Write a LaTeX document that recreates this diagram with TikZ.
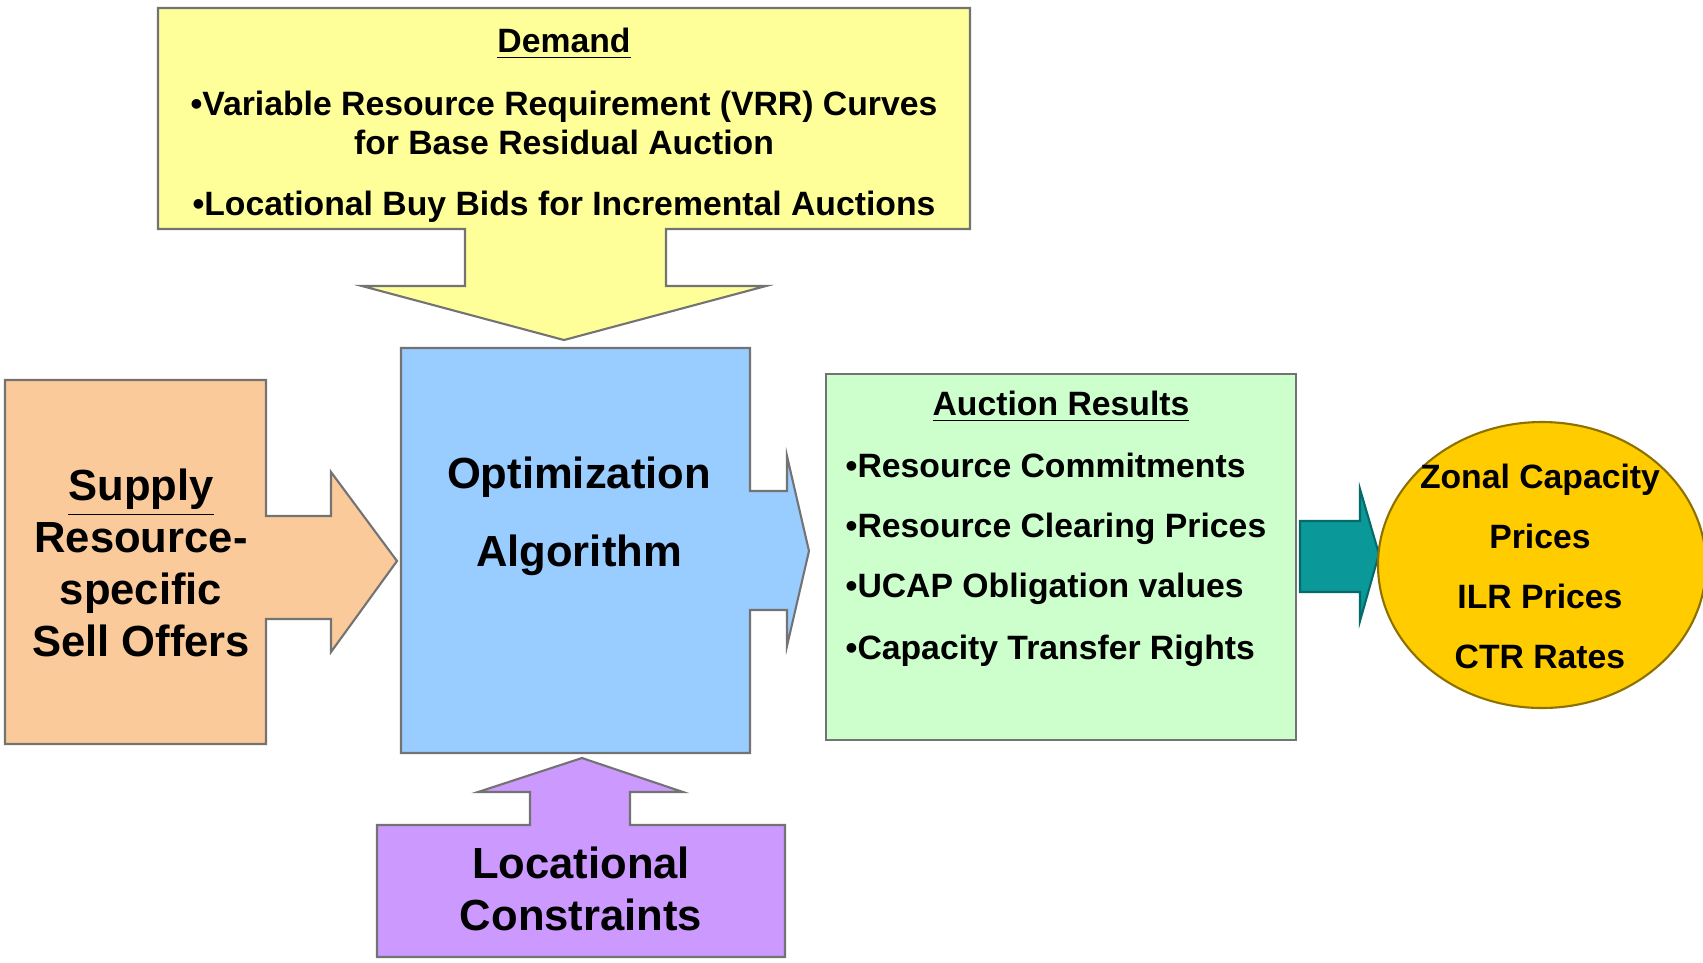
\documentclass[tikz,border=0pt]{standalone}
\usepackage{fontspec}
\setmainfont{Liberation Sans}
\usetikzlibrary{shapes.geometric}
\definecolor{demandyellow}{HTML}{FFFF99}
\definecolor{supplyorange}{HTML}{FACA9B}
\definecolor{optblue}{HTML}{99CCFF}
\definecolor{resultgreen}{HTML}{CCFFCC}
\definecolor{arrowteal}{HTML}{0A9898}
\definecolor{zonalgold}{HTML}{FFCC00}
\definecolor{locpurple}{HTML}{CC99FF}
\tikzset{
	outline/.style={draw=black!55, line width=0.6pt},
	smalltext/.style={font={\fontsize{9.6pt}{11.1pt}\selectfont\bfseries}, inner sep=0pt},
	bigtext/.style={font={\fontsize{12.4pt}{14.8pt}\selectfont\bfseries}, inner sep=0pt, align=center}
}

\begin{document}
\begin{tikzpicture}[x=0.1mm, y=-0.1mm]
			%%%%% START %%%%%
			\useasboundingbox (0, 0) rectangle (1703, 962);
			
			% demand callout
			\draw[outline, fill=demandyellow] (158, 8) -- (970, 8) -- (970, 229) -- (666, 229) -- (666, 286) -- (766, 286) -- (564, 340) -- (362, 286) -- (465, 286) -- (465, 229) -- (158, 229) -- cycle;
			\node[smalltext, anchor=base] (demandhead) at (564, 52) {\underline{Demand}};
			\node[smalltext, align=center] (demandvrr) at (564, 122.5) {•Variable Resource Requirement (VRR) Curves\\for Base Residual Auction};
			\node[smalltext, anchor=base] (demandbids) at (564, 215) {•Locational Buy Bids for Incremental Auctions};
			
			% supply callout
			\draw[outline, fill=supplyorange] (5, 380) -- (266, 380) -- (266, 516) -- (331, 516) -- (331, 472) -- (397, 561) -- (331, 652) -- (331, 619) -- (266, 619) -- (266, 744) -- (5, 744) -- cycle;
			\node[bigtext] (supplytxt) at (141, 563) {\underline{Supply}\\Resource-\\specific\\Sell Offers};
			
			% optimization callout
			\draw[outline, fill=optblue] (401, 348) -- (750, 348) -- (750, 491) -- (787, 491) -- (787, 456) -- (809, 551) -- (787, 646) -- (787, 610) -- (750, 610) -- (750, 753) -- (401, 753) -- cycle;
			\node[bigtext, font={\fontsize{12.4pt}{22.2pt}\selectfont\bfseries}] (opttxt) at (579, 516.5) {Optimization\\Algorithm};
			
			% locational callout
			\draw[outline, fill=locpurple] (377, 825) -- (530, 825) -- (530, 792) -- (478, 792) -- (582, 758) -- (683, 792) -- (630, 792) -- (630, 825) -- (785, 825) -- (785, 957) -- (377, 957) -- cycle;
			\node[bigtext] (loctxt) at (581, 889) {Locational\\Constraints};
			
			% auction results
			\draw[outline, fill=resultgreen] (826, 374) rectangle (1296, 740);
			\node[smalltext, anchor=base] (resulthead) at (1061, 415) {\underline{Auction Results}};
			\node[smalltext, anchor=base west] (resultcommit) at (845, 477) {•Resource Commitments};
			\node[smalltext, anchor=base west] (resultprice) at (845, 537) {•Resource Clearing Prices};
			\node[smalltext, anchor=base west] (resultucap) at (845, 597) {•UCAP Obligation values};
			\node[smalltext, anchor=base west] (resultctr) at (845, 659) {•Capacity Transfer Rights};
			
			% teal arrow
			\draw[draw=arrowteal!70!black, line width=0.6pt, fill=arrowteal] (1300, 521) -- (1360, 521) -- (1360, 489) -- (1379, 554) -- (1360, 621) -- (1360, 592) -- (1300, 592) -- cycle;
			
			% zonal prices
			\node[ellipse, draw=black!45!zonalgold, line width=0.6pt, fill=zonalgold, minimum width=32.8mm, minimum height=28.6mm, inner sep=0pt] (zonal) at (1542, 565) {};
			\node[smalltext, align=center, font={\fontsize{9.6pt}{17.1pt}\selectfont\bfseries}] (zonaltxt) at (1540, 566.5) {Zonal Capacity\\Prices\\ILR Prices\\CTR Rates};
			
			%%%%% END %%%%%
		\end{tikzpicture}
\end{document}
